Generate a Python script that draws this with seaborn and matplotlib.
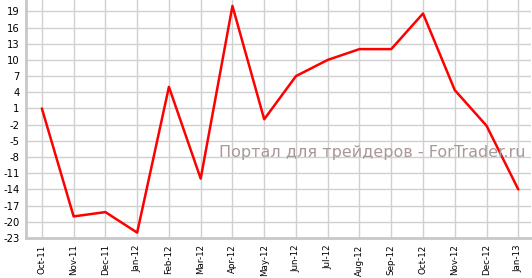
import matplotlib
matplotlib.use("Agg")
import matplotlib.pyplot as plt
import seaborn as sns
import pandas as pd

months = ["Oct-11", "Nov-11", "Dec-11", "Jan-12", "Feb-12", "Mar-12", "Apr-12", "May-12",
          "Jun-12", "Jul-12", "Aug-12", "Sep-12", "Oct-12", "Nov-12", "Dec-12", "Jan-13"]
values = [1, -19, -18.2, -22, 5, -12, 20, -1, 7, 10, 12, 12, 18.6, 4.4, -2.2, -14]
yticks = [19, 16, 13, 10, 7, 4, 1, -2, -5, -8, -11, -14, -17, -20, -23]

sns.set_theme(style="white")
plt.rcParams['font.family'] = ['DejaVu Sans']

df = pd.DataFrame({"x": range(len(months)), "v": values})

fig = plt.figure(figsize=(5.32, 2.78), dpi=100)
ax = fig.add_axes([26/532, 40/278, 505/532, 238/278])
ax.set_axisbelow(True)
ax.grid(True, color="#d0d0d0", linewidth=1.0)
sns.lineplot(data=df, x="x", y="v", color="#ff0000", linewidth=1.8, ax=ax)

ax.set_xlim(-0.5, 15.4)
ax.set_ylim(-23, 21.1)
ax.set_xticks(range(len(months)))
ax.set_xticklabels(months, rotation=90, fontsize=6.3, color="#000000")
ax.set_yticks(yticks)
ax.set_yticklabels([str(t) for t in yticks], fontsize=7.2, color="#000000")
ax.set_xlabel("")
ax.set_ylabel("")
for s in ["top", "right"]:
    ax.spines[s].set_visible(False)
for s in ["left", "bottom"]:
    ax.spines[s].set_color("#c8c8c8")
    ax.spines[s].set_linewidth(2)
ax.tick_params(axis="both", which="both", length=3, width=1, color="#c8c8c8", pad=1.5)

ax.text(0.99, 0.36, "Портал для трейдеров - ForTrader.ru", transform=ax.transAxes,
        ha="right", va="center", fontsize=11.5, color="#a89898")

fig.savefig("out.png", dpi=100)
